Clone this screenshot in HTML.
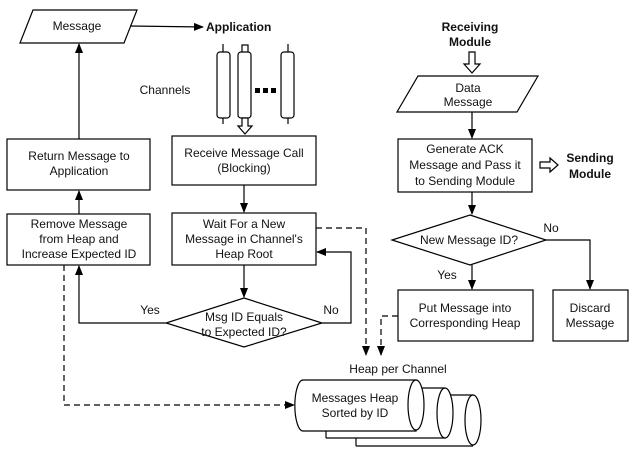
<!DOCTYPE html>
<html><head><style>
html,body{margin:0;padding:0;background:#fff;}
svg{display:block;}
text{font-family:"Liberation Sans",sans-serif;font-size:12px;fill:#111;}
.b{font-weight:bold;}
</style></head><body>
<svg width="633" height="452" viewBox="0 0 633 452" xmlns="http://www.w3.org/2000/svg">
<defs>
<marker id="a" markerWidth="10" markerHeight="8" refX="9" refY="4" orient="auto" markerUnits="userSpaceOnUse"><path d="M0,0 L10,4 L0,8 z" fill="#000"/></marker>
</defs>
<g fill="none" stroke="#000" stroke-width="1.2">
<!-- Message parallelogram -->
<polygon points="33,10 137,10 124,43 20,43" fill="#fff"/>
<line x1="130" y1="26" x2="203" y2="27" marker-end="url(#a)"/>
<!-- channels -->
<line x1="223" y1="44" x2="223" y2="124"/><rect x="217" y="52" width="13" height="66" rx="3" fill="#fff"/>
<rect x="242" y="45" width="6" height="10" fill="#fff"/><rect x="238" y="52" width="13" height="66" rx="3" fill="#fff"/>
<line x1="288" y1="44" x2="288" y2="124"/><rect x="281" y="52" width="13" height="66" rx="3" fill="#fff"/>
<polygon points="242,118 248,118 248,126 252,126 245,134 238,126 242,126" fill="#fff"/>
<!-- boxes left -->
<rect x="172" y="136" width="144" height="49" fill="#fff"/>
<line x1="244" y1="185" x2="244" y2="212" marker-end="url(#a)"/>
<rect x="172" y="213" width="144" height="52" fill="#fff"/>
<line x1="244" y1="265" x2="244" y2="297" marker-end="url(#a)"/>
<polygon points="244,298 322,323 244,347 166,323" fill="#fff"/>
<polyline points="166,323 79,323 79,266" marker-end="url(#a)"/>
<polyline points="322,323 351,323 351,252 317,252" marker-end="url(#a)"/>
<rect x="7" y="214" width="143" height="51" fill="#fff"/>
<line x1="79" y1="214" x2="79" y2="191" marker-end="url(#a)"/>
<rect x="7" y="139" width="143" height="51" fill="#fff"/>
<line x1="79" y1="139" x2="79" y2="44" marker-end="url(#a)"/>
<g stroke-dasharray="6,4">
<polyline points="64,265 64,405 294,405" marker-end="url(#a)"/>
<polyline points="316,228 366,228 366,355" marker-end="url(#a)"/>
<polyline points="398,316 381,316 381,355" marker-end="url(#a)"/>
</g>
<!-- heaps -->
<path d="M356,395 H473 M356,446 H473" /><path d="M356,395 V446" />
<ellipse cx="473" cy="420" rx="8" ry="25" fill="#fff"/>
<path d="M326,388 H445 V438 H326 Z" fill="#fff" stroke="none"/>
<path d="M326,388 H445 M326,438 H445 M326,420 V438"/>
<ellipse cx="445" cy="413" rx="8" ry="25" fill="#fff"/>
<path d="M303,380 H416 V431 H303 A8,25 0 0 1 303,380 Z" fill="#fff"/>
<ellipse cx="416" cy="405" rx="8" ry="25" fill="#fff"/>
<!-- right side -->
<polygon points="469,52 475,52 475,64 480,64 472,73 464,64 469,64" fill="#fff"/>
<polygon points="418,76 538,76 517,112 397,112" fill="#fff"/>
<line x1="472" y1="112" x2="472" y2="138" marker-end="url(#a)"/>
<rect x="398" y="139" width="134" height="53" fill="#fff"/>
<polygon points="540,162 550,162 550,158 558,165 550,172 550,168 540,168" fill="#fff"/>
<line x1="472" y1="192" x2="472" y2="214" marker-end="url(#a)"/>
<polygon points="470,215 546,240 470,265 392,240" fill="#fff"/>
<polyline points="546,240 590,240 590,289" marker-end="url(#a)"/>
<line x1="472" y1="265" x2="472" y2="289" marker-end="url(#a)"/>
<rect x="398" y="290" width="135" height="51" fill="#fff"/>
<rect x="553" y="290" width="75" height="51" fill="#fff"/>
</g>
<g fill="#000"><rect x="255" y="88" width="5" height="5"/><rect x="263" y="88" width="5" height="5"/><rect x="271" y="88" width="5" height="5"/></g>
<g text-anchor="middle">
<text x="77" y="30">Message</text>
<text x="165" y="94">Channels</text>
<text x="244" y="157">Receive Message Call</text>
<text x="244" y="172">(Blocking)</text>
<text x="244" y="228">Wait For a New</text>
<text x="244" y="243">Message in Channel's</text>
<text x="244" y="258">Heap Root</text>
<text x="244" y="321">Msg ID Equals</text>
<text x="244" y="336">to Expected ID?</text>
<text x="150" y="314">Yes</text>
<text x="331" y="314">No</text>
<text x="79" y="228">Remove Message</text>
<text x="79" y="243">from Heap and</text>
<text x="79" y="258">Increase Expected ID</text>
<text x="79" y="160">Return Message to</text>
<text x="79" y="175">Application</text>
<text x="398" y="373">Heap per Channel</text>
<text x="355" y="402">Messages Heap</text>
<text x="355" y="417">Sorted by ID</text>
<text class="b" x="470" y="31">Receiving</text>
<text class="b" x="470" y="46">Module</text>
<text x="468" y="92">Data</text>
<text x="468" y="106">Message</text>
<text x="465" y="153">Generate ACK</text>
<text x="465" y="169">Message and Pass it</text>
<text x="465" y="185">to Sending Module</text>
<text class="b" x="590" y="162">Sending</text>
<text class="b" x="590" y="178">Module</text>
<text x="469" y="244">New Message ID?</text>
<text x="551" y="232">No</text>
<text x="447" y="279">Yes</text>
<text x="465" y="312">Put Message into</text>
<text x="465" y="327">Corresponding Heap</text>
<text x="590" y="312">Discard</text>
<text x="590" y="327">Message</text>
</g>
<text class="b" x="206" y="31">Application</text>
</svg>
</body></html>
